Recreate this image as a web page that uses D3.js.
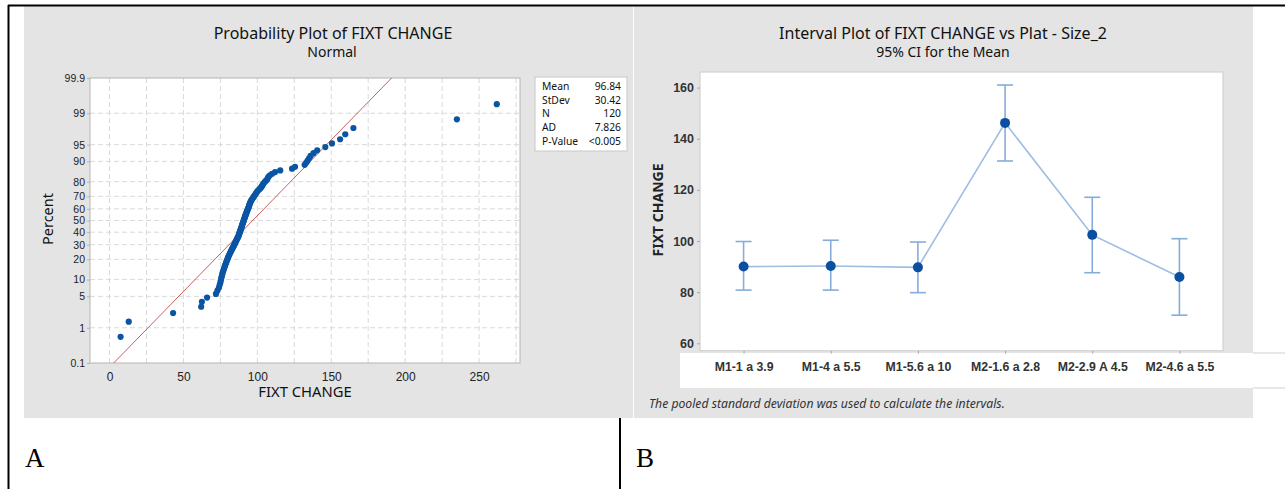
<!DOCTYPE html>
<html>
<head>
<meta charset="utf-8">
<script src="https://cdn.jsdelivr.net/npm/d3@7"></script>
<style>
  body { margin: 0; background: #fff; }
  svg { display: block; font-family: "Noto Sans", "Open Sans", sans-serif; }
  .tick text { fill: #222; }
</style>
</head>
<body>
<svg id="chart" width="1285" height="489"></svg>
<script>
// ---- panel A data: sorted FIXT CHANGE values (N = 120)
var fixtValues = [
  7.5, 13, 43, 62, 62.5, 66, 72, 73, 74, 74.5,
  75, 75.3, 75.6, 76, 76.3, 76.6, 77, 77.4, 77.8, 78.1,
  78.5, 78.9, 79.2, 79.6, 80, 80.3, 80.7, 81.1, 81.5, 81.9,
  82.3, 82.7, 83.1, 83.5, 83.9, 84.3, 84.6, 85, 85.3, 85.7,
  86, 86.4, 86.7, 87.1, 87.3, 87.6, 87.8, 88, 88.3, 88.5,
  88.7, 89, 89.2, 89.4, 89.6, 89.8, 90, 90.3, 90.5, 90.7,
  90.9, 91.1, 91.4, 91.6, 91.8, 92, 92.3, 92.5, 92.8, 93,
  93.3, 93.6, 93.9, 94.1, 94.3, 94.5, 94.8, 95, 95.3, 95.6,
  96, 96.5, 97, 97.5, 98, 98.5, 99, 99.5, 100, 100.8,
  101.6, 102.4, 103, 103.5, 104, 104.7, 105.5, 106.5, 107, 107.5,
  108.5, 110, 112, 115.5, 123.5, 125.5, 132, 133, 134, 135,
  136, 138, 140.5, 146, 150.5, 156, 159.5, 165, 235, 262
];
var statLabels = ["Mean", "StDev", "N", "AD", "P-Value"];
var statValues = ["96.84", "30.42", "120", "7.826", "<0.005"];
var fitMean = 96.84;
var fitStdev = 30.42;
var percentTicks = [0.1, 1, 5, 10, 20, 30, 40, 50, 60, 70, 80, 90, 95, 99, 99.9];
var xGridTicks = [0, 25, 50, 75, 100, 125, 150, 175, 200, 225, 250, 275];
var xLabelTicks = [0, 50, 100, 150, 200, 250];

// ---- panel B data: interval plot
var groups = ["M1-1 a 3.9", "M1-4 a 5.5", "M1-5.6 a 10", "M2-1.6 a 2.8", "M2-2.9 A 4.5", "M2-4.6 a 5.5"];
var groupMeans = [90.0, 90.2, 89.7, 146.2, 102.4, 85.9];
var ciLower = [80.8, 80.8, 79.8, 131.3, 87.6, 71.0];
var ciUpper = [99.8, 100.3, 99.6, 161.0, 117.1, 100.9];
var yTicksB = [60, 80, 100, 120, 140, 160];

var svg = d3.select("#chart");

// inverse standard normal (Acklam)
function probit(p) {
  var a = [-39.69683028665376, 220.9460984245205, -275.9285104469687, 138.3577518672690, -30.66479806614716, 2.506628277459239];
  var b = [-54.47609879822406, 161.5858368580409, -155.6989798598866, 66.80131188771972, -13.28068155288572];
  var c = [-0.007784894002430293, -0.3223964580411365, -2.400758277161838, -2.549732539343734, 4.374664141464968, 2.938163982698783];
  var d = [0.007784695709041462, 0.3224671290700398, 2.445134137142996, 3.754408661907416];
  var q, r;
  if (p < 0.02425) {
    q = Math.sqrt(-2 * Math.log(p));
    return (((((c[0]*q+c[1])*q+c[2])*q+c[3])*q+c[4])*q+c[5]) / ((((d[0]*q+d[1])*q+d[2])*q+d[3])*q+1);
  } else if (p > 1 - 0.02425) {
    q = Math.sqrt(-2 * Math.log(1 - p));
    return -(((((c[0]*q+c[1])*q+c[2])*q+c[3])*q+c[4])*q+c[5]) / ((((d[0]*q+d[1])*q+d[2])*q+d[3])*q+1);
  }
  q = p - 0.5; r = q * q;
  return (((((a[0]*r+a[1])*r+a[2])*r+a[3])*r+a[4])*r+a[5])*q / (((((b[0]*r+b[1])*r+b[2])*r+b[3])*r+b[4])*r+1);
}

// ---- page frame (table borders + grey panels)
svg.append("rect").attr("x", 24).attr("y", 6).attr("width", 609).attr("height", 412).attr("fill", "#e4e4e4");
svg.append("rect").attr("x", 634).attr("y", 6).attr("width", 619).attr("height", 412).attr("fill", "#e4e4e4");
svg.append("line").attr("x1", 8).attr("x2", 1285).attr("y1", 5.5).attr("y2", 5.5).attr("stroke", "#000").attr("stroke-width", 2);
svg.append("line").attr("x1", 8.5).attr("x2", 8.5).attr("y1", 5).attr("y2", 489).attr("stroke", "#000").attr("stroke-width", 2);
svg.append("line").attr("x1", 620).attr("x2", 620).attr("y1", 418).attr("y2", 489).attr("stroke", "#000").attr("stroke-width", 2);

svg.append("text").attr("x", 25).attr("y", 467)
  .style("font-family", "'Liberation Serif', serif").style("font-size", "27px").text("A");
svg.append("text").attr("x", 636).attr("y", 467)
  .style("font-family", "'Liberation Serif', serif").style("font-size", "27px").text("B");

// =============== panel A: probability plot ===============
var A = { left: 90, right: 520, top: 78, bottom: 363 };
var xA = d3.scaleLinear().domain([-13.2, 277.7]).range([A.left, A.right]);
var yA = d3.scaleLinear().domain([probit(0.001), probit(0.999)]).range([A.bottom, A.top]);

var gA = svg.append("g");

gA.append("rect")
  .attr("x", A.left).attr("y", A.top)
  .attr("width", A.right - A.left).attr("height", A.bottom - A.top)
  .attr("fill", "#fff");

gA.selectAll("line.vgrid")
  .data(xGridTicks)
  .enter().append("line")
  .attr("class", "vgrid")
  .attr("x1", function(d) { return xA(d); }).attr("x2", function(d) { return xA(d); })
  .attr("y1", A.top).attr("y2", A.bottom)
  .attr("stroke", "#d9d9d9").attr("stroke-dasharray", "5,3");

gA.selectAll("line.hgrid")
  .data(percentTicks.slice(1, -1))
  .enter().append("line")
  .attr("class", "hgrid")
  .attr("x1", A.left).attr("x2", A.right)
  .attr("y1", function(d) { return yA(probit(d / 100)); })
  .attr("y2", function(d) { return yA(probit(d / 100)); })
  .attr("stroke", "#d9d9d9").attr("stroke-dasharray", "5,3");

gA.append("rect")
  .attr("x", A.left).attr("y", A.top)
  .attr("width", A.right - A.left).attr("height", A.bottom - A.top)
  .attr("fill", "none").attr("stroke", "#b4b4b4");

// axes
var xAxisA = d3.axisBottom(xA).tickValues(xLabelTicks).tickSize(0).tickPadding(9);
gA.append("g").attr("transform", "translate(0," + A.bottom + ")").call(xAxisA)
  .call(function(g) { g.select(".domain").remove(); })
  .selectAll("text").style("font-size", "12px");

var yAxisA = d3.axisLeft(yA)
  .tickValues(percentTicks.map(function(p) { return probit(p / 100); }))
  .tickFormat(function(d, i) { return percentTicks[i]; })
  .tickSize(3).tickPadding(2);
gA.append("g").attr("transform", "translate(" + A.left + ",0)").call(yAxisA)
  .call(function(g) { g.select(".domain").remove(); g.selectAll("line").attr("stroke", "#b4b4b4"); })
  .selectAll("text").style("font-size", "10.5px");

// fitted normal line
var zEnds = [probit(0.001), probit(0.999)];
gA.append("line")
  .attr("x1", xA(fitMean + zEnds[0] * fitStdev)).attr("y1", yA(zEnds[0]))
  .attr("x2", xA(fitMean + zEnds[1] * fitStdev)).attr("y2", yA(zEnds[1]))
  .attr("stroke", "#c0504d").attr("stroke-width", 0.9);

// points, median-rank plotting positions
var nA = fixtValues.length;
gA.selectAll("circle.dot")
  .data(fixtValues)
  .enter().append("circle")
  .attr("class", "dot")
  .attr("cx", function(d) { return xA(d); })
  .attr("cy", function(d, i) { return yA(probit((i + 1 - 0.3) / (nA + 0.4))); })
  .attr("r", 3.1)
  .attr("fill", "#0a55a3");

// titles
gA.append("text").attr("x", 333).attr("y", 39).attr("text-anchor", "middle")
  .style("font-size", "16px").style("fill", "#111").text("Probability Plot of FIXT CHANGE");
gA.append("text").attr("x", 332).attr("y", 57).attr("text-anchor", "middle")
  .style("font-size", "14px").style("fill", "#111").text("Normal");
gA.append("text").attr("x", 305).attr("y", 397).attr("text-anchor", "middle")
  .style("font-size", "14.8px").style("fill", "#111").text("FIXT CHANGE");
gA.append("text").attr("transform", "translate(53,219) rotate(-90)").attr("text-anchor", "middle")
  .style("font-size", "14.5px").style("fill", "#111").text("Percent");

// stats box
var legendA = gA.append("g");
legendA.append("rect").attr("x", 535).attr("y", 77).attr("width", 92).attr("height", 74)
  .attr("fill", "#fff").attr("stroke", "#c8c8c8");
legendA.selectAll("text.slab")
  .data(statLabels)
  .enter().append("text")
  .attr("class", "slab")
  .attr("x", 542)
  .attr("y", function(d, i) { return 90 + i * 13.7; })
  .style("font-size", "10.3px").style("fill", "#111")
  .text(function(d) { return d; });
legendA.selectAll("text.sval")
  .data(statValues)
  .enter().append("text")
  .attr("class", "sval")
  .attr("x", 621).attr("text-anchor", "end")
  .attr("y", function(d, i) { return 90 + i * 13.7; })
  .style("font-size", "10.3px").style("fill", "#111")
  .text(function(d) { return d; });

// =============== panel B: interval plot ===============
var B = { left: 700, right: 1223, top: 72, bottom: 350.7 };
var xB = d3.scalePoint().domain(groups).range([B.left, B.right]).padding(0.5);
var yB = d3.scaleLinear().domain([57.1, 166.1]).range([B.bottom, B.top]);

var gB = svg.append("g");

// white strip behind the category labels
gB.append("rect").attr("x", 680).attr("y", 353).attr("width", 605).attr("height", 35).attr("fill", "#fff");
gB.append("line").attr("x1", 1253).attr("x2", 1285).attr("y1", 353).attr("y2", 353).attr("stroke", "#cfcfcf");
gB.append("line").attr("x1", 1253).attr("x2", 1285).attr("y1", 388).attr("y2", 388).attr("stroke", "#cfcfcf");

gB.append("rect")
  .attr("x", B.left).attr("y", B.top)
  .attr("width", B.right - B.left).attr("height", B.bottom - B.top)
  .attr("fill", "#fff").attr("stroke", "#d2d2d2").attr("stroke-width", 1.2);

var yAxisB = d3.axisLeft(yB).tickValues(yTicksB).tickSize(3).tickPadding(3);
gB.append("g").attr("transform", "translate(" + B.left + ",0)").call(yAxisB)
  .call(function(g) { g.select(".domain").remove(); g.selectAll("line").attr("stroke", "#aaa"); })
  .selectAll("text").style("font-size", "12.5px").style("font-weight", "bold").style("fill", "#333");

var xAxisB = d3.axisBottom(xB).tickSize(3).tickPadding(9);
gB.append("g").attr("transform", "translate(0," + B.bottom + ")").call(xAxisB)
  .call(function(g) { g.select(".domain").remove(); g.selectAll("line").attr("stroke", "#aaa"); })
  .selectAll("text").style("font-size", "12.3px").style("font-weight", "bold").style("fill", "#333");

// error bars
var barsB = gB.selectAll("g.ci")
  .data(groups)
  .enter().append("g")
  .attr("class", "ci")
  .attr("stroke", "#86acd9").attr("stroke-width", 1.6);
barsB.append("line")
  .attr("x1", function(d) { return xB(d); }).attr("x2", function(d) { return xB(d); })
  .attr("y1", function(d, i) { return yB(ciLower[i]); })
  .attr("y2", function(d, i) { return yB(ciUpper[i]); });
barsB.append("line")
  .attr("x1", function(d) { return xB(d) - 8; }).attr("x2", function(d) { return xB(d) + 8; })
  .attr("y1", function(d, i) { return yB(ciUpper[i]); })
  .attr("y2", function(d, i) { return yB(ciUpper[i]); });
barsB.append("line")
  .attr("x1", function(d) { return xB(d) - 8; }).attr("x2", function(d) { return xB(d) + 8; })
  .attr("y1", function(d, i) { return yB(ciLower[i]); })
  .attr("y2", function(d, i) { return yB(ciLower[i]); });

// mean connect line + points
var meanLine = d3.line()
  .x(function(d, i) { return xB(groups[i]); })
  .y(function(d) { return yB(d); });
gB.append("path").datum(groupMeans)
  .attr("d", meanLine)
  .attr("fill", "none").attr("stroke", "#9dbde3").attr("stroke-width", 1.6);

gB.selectAll("circle.mean")
  .data(groupMeans)
  .enter().append("circle")
  .attr("class", "mean")
  .attr("cx", function(d, i) { return xB(groups[i]); })
  .attr("cy", function(d) { return yB(d); })
  .attr("r", 5)
  .attr("fill", "#0a4fa0");

// titles
gB.append("text").attr("x", 943).attr("y", 39).attr("text-anchor", "middle")
  .style("font-size", "16px").style("fill", "#111").text("Interval Plot of FIXT CHANGE vs Plat - Size_2");
gB.append("text").attr("x", 943).attr("y", 57).attr("text-anchor", "middle")
  .style("font-size", "14px").style("fill", "#111").text("95% CI for the Mean");
gB.append("text").attr("transform", "translate(663,210) rotate(-90)").attr("text-anchor", "middle")
  .style("font-size", "14px").style("font-weight", "bold").style("fill", "#222").text("FIXT CHANGE");
gB.append("text").attr("x", 649).attr("y", 408)
  .style("font-size", "12.2px").style("font-style", "italic").style("fill", "#333")
  .text("The pooled standard deviation was used to calculate the intervals.");
</script>
</body>
</html>
